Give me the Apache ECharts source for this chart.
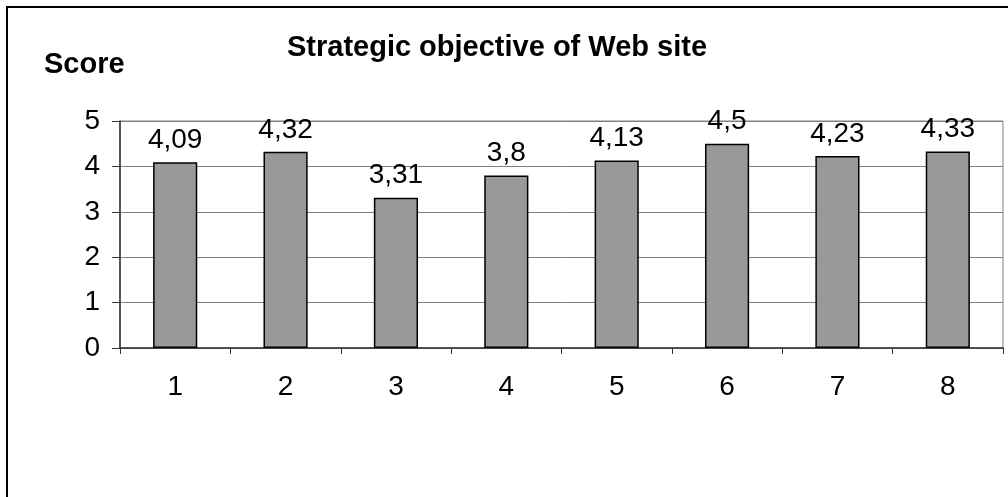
<!DOCTYPE html>
<html>
<head>
<meta charset="utf-8">
<script src="https://cdn.jsdelivr.net/npm/echarts@6/dist/echarts.min.js"></script>
<style>
html, body { margin: 0; padding: 0; background: #fff; }
#chart { width: 1008px; height: 497px; }
</style>
</head>
<body>
<div id="chart"></div>
<script>
var categories = ['1', '2', '3', '4', '5', '6', '7', '8'];
var scores = [4.09, 4.32, 3.31, 3.8, 4.13, 4.5, 4.23, 4.33];
var yTicks = [0, 1, 2, 3, 4, 5];

var chart = echarts.init(document.getElementById('chart'));
var font = 'Liberation Sans, Arial, sans-serif';

var option = {
    animation: false,
    backgroundColor: '#fff',
    textStyle: { fontFamily: font },
    title: [{
        text: 'Strategic objective of Web site',
        left: 492,
        top: 28,
        textAlign: 'center',
        textStyle: { fontSize: 29, fontWeight: 'bold', color: '#000', fontFamily: font }
    }, {
        text: 'Score',
        left: 39,
        top: 45,
        textStyle: { fontSize: 29, fontWeight: 'bold', color: '#000', fontFamily: font }
    }],
    graphic: [{
        type: 'rect',
        shape: { x: 7, y: 7, width: 1020, height: 520 },
        style: { fill: 'none', stroke: '#000', lineWidth: 2 },
        silent: true
    }],
    grid: {
        left: 120,
        right: 5,
        top: 121,
        bottom: 149,
        show: true,
        borderColor: '#808080',
        borderWidth: 1,
        containLabel: false
    },
    xAxis: {
        type: 'category',
        data: categories,
        boundaryGap: true,
        axisLine: { lineStyle: { color: '#333', width: 1.5 } },
        axisTick: { show: true, alignWithLabel: false, length: 6, lineStyle: { color: '#333' } },
        axisLabel: { fontSize: 28, color: '#000', margin: 25, fontFamily: font },
        splitLine: { show: false }
    },
    yAxis: {
        type: 'value',
        min: yTicks[0],
        max: yTicks[yTicks.length - 1],
        interval: 1,
        axisLine: { show: true, lineStyle: { color: '#333', width: 1.5 } },
        axisTick: { show: true, inside: false, length: 8, lineStyle: { color: '#333' } },
        axisLabel: { fontSize: 28, color: '#000', margin: 20, fontFamily: font },
        splitLine: { show: true, lineStyle: { color: '#808080', width: 1 } }
    },
    series: [{
        type: 'bar',
        data: scores,
        barWidth: '40%',
        itemStyle: { color: '#999999', borderColor: '#000', borderWidth: 1.5 },
        label: {
            show: true,
            position: 'top',
            distance: 8,
            fontSize: 28,
            color: '#000',
            fontFamily: font,
            formatter: function (p) {
                return String(p.value).replace('.', ',');
            }
        }
    }]
};

chart.setOption(option);
</script>
</body>
</html>
